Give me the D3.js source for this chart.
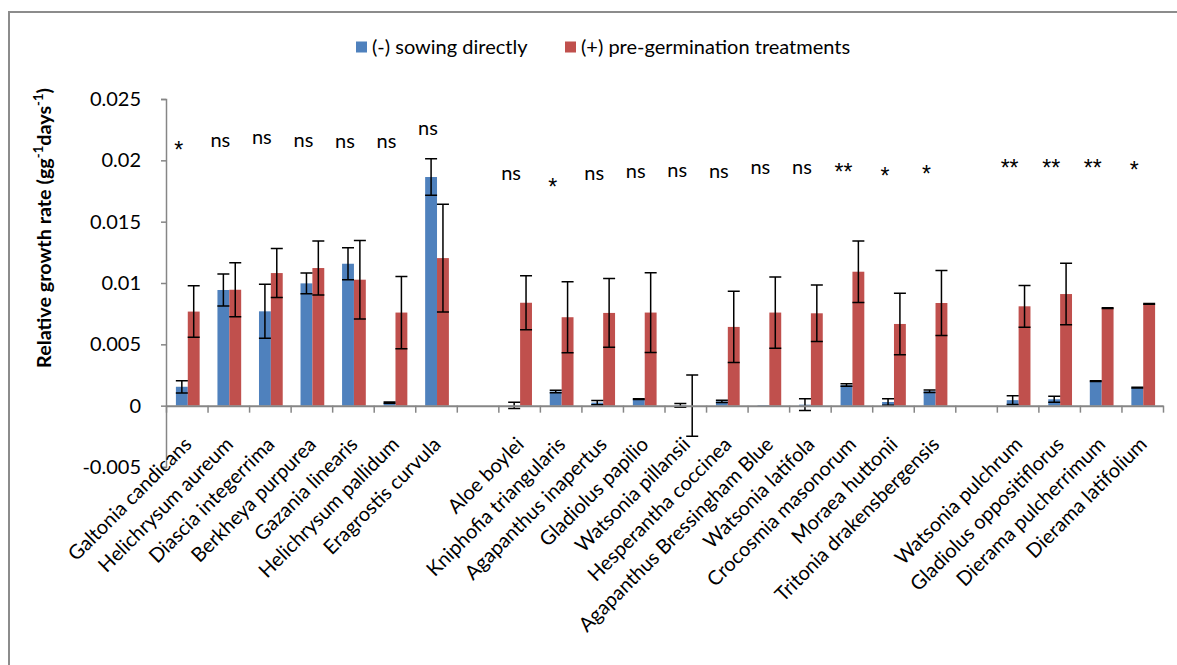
<!DOCTYPE html>
<html>
<head>
<meta charset="utf-8">
<script src="https://cdn.jsdelivr.net/npm/d3@7"></script>
<style>
  html, body { margin: 0; padding: 0; background: #fff; overflow: hidden; }
  svg { display: block; }
  text { font-family: Lato, "Open Sans", "DejaVu Sans", sans-serif; fill: #000; }
</style>
</head>
<body>
<script>
// ---------------- DATA ----------------
const categories = [
  "Galtonia candicans", "Helichrysum aureum", "Diascia integerrima", "Berkheya purpurea",
  "Gazania linearis", "Helichrysum pallidum", "Eragrostis curvula", "",
  "Aloe boylei", "Kniphofia triangularis", "Agapanthus inapertus", "Gladiolus papilio",
  "Watsonia pillansii", "Hesperantha coccinea", "Agapanthus Bressingham Blue", "Watsonia latifola",
  "Crocosmia masonorum", "Moraea huttonii", "Tritonia drakensbergensis", "",
  "Watsonia pulchrum", "Gladiolus oppositiflorus", "Dierama pulcherrimum", "Dierama latifolium"
];
const seriesNames = ["(-) sowing directly", "(+) pre-germination treatments"];
const sowingDirectly = [
  0.00154, 0.00943, 0.00769, 0.00997, 0.01157, 0.00024, 0.01864, null,
  0.00002, 0.00116, 0.00025, 0.00054, 0.00003, 0.00035, 0.00005, 0.00008,
  0.00168, 0.00030, 0.00118, null,
  0.00045, 0.00052, 0.00201, 0.00148
];
const sowingDirectlyErr = [
  0.0005, 0.0013, 0.0022, 0.00084, 0.0013, 0.00005, 0.00148, null,
  0.00025, 0.0001, 0.00018, 0.00003, 0.00015, 0.0001, 0.0, 0.00048,
  0.0001, 0.00027, 0.0001, null,
  0.00035, 0.00025, 0.00003, 0.00003
];
const preGermination = [
  0.00767, 0.00945, 0.01081, 0.01122, 0.01027, 0.00759, 0.01203, null,
  0.00839, 0.00721, 0.00756, 0.00759, 0.0, 0.00642, 0.00759, 0.00753,
  0.01092, 0.00666, 0.00837, null,
  0.00810, 0.00910, 0.00796, 0.00829
];
const preGerminationErr = [
  0.0021, 0.0022, 0.0020, 0.0022, 0.0032, 0.00295, 0.00439, null,
  0.0022, 0.0029, 0.0028, 0.00325, 0.0025, 0.0029, 0.0029, 0.0023,
  0.0025, 0.0025, 0.00265, null,
  0.0017, 0.0025, 0.00003, 0.00003
];
const significance = [
  "*", "ns", "ns", "ns", "ns", "ns", "ns", "",
  "ns", "*", "ns", "ns", "ns", "ns", "ns", "ns",
  "**", "*", "*", "",
  "**", "**", "**", "*"
];
const significanceLevel = [
  0.02122, 0.02147, 0.02171, 0.02147, 0.02138, 0.02138, 0.02244, null,
  0.01878, 0.01821, 0.01878, 0.01894, 0.01902, 0.01894, 0.01927, 0.01927,
  0.01943, 0.01910, 0.01927, null,
  0.01976, 0.01976, 0.01976, 0.01960
];
const yTicks = [-0.005, 0, 0.005, 0.01, 0.015, 0.02, 0.025];
const yTickLabels = ["-0.005", "0", "0.005", "0.01", "0.015", "0.02", "0.025"];

// ---------------- LAYOUT ----------------
const W = 1177, H = 665;
const colors = ["#4F81BD", "#C0504D"];
const axisColor = "#868686";
const fs = 20;

const svg = d3.select("body").append("svg").attr("width", W).attr("height", H);
svg.append("rect").attr("width", W).attr("height", H).attr("fill", "#fff");

// outer chart border (only top and left edges fall inside the picture)
svg.append("line").attr("x1", 8).attr("x2", W).attr("y1", 12).attr("y2", 12)
  .attr("stroke", "#8c8c8c").attr("stroke-width", 2);
svg.append("line").attr("x1", 9).attr("x2", 9).attr("y1", 11).attr("y2", H)
  .attr("stroke", "#8c8c8c").attr("stroke-width", 2);

const n = categories.length;
const x = d3.scaleBand().domain(d3.range(n)).range([166, 1163]).paddingInner(0).paddingOuter(0);
const xEdges = d3.scaleLinear().domain([0, n]).range([166, 1163]);
const y = d3.scaleLinear().domain([-0.005, 0.025]).range([467, 99]);
const bw = x.bandwidth() / 3.5;

// Y axis
const yAxis = svg.append("g").attr("transform", "translate(166,0)")
  .call(d3.axisLeft(y).tickValues(yTicks).tickSize(5).tickPadding(20)
    .tickFormat((d, i) => yTickLabels[i]));
yAxis.select(".domain").attr("stroke", axisColor).attr("stroke-width", 1.5);
yAxis.selectAll(".tick line").attr("stroke", axisColor).attr("stroke-width", 1.5);
yAxis.selectAll(".tick text").style("font-size", fs + "px").attr("fill", "#000");

// Bars
const seriesVals = [sowingDirectly, preGermination];
const seriesErr = [sowingDirectlyErr, preGerminationErr];
const plot = svg.append("g");
seriesVals.forEach((vals, s) => {
  const idx = d3.range(n).filter(i => vals[i] !== null);
  plot.selectAll(null).data(idx).join("rect")
    .attr("x", i => x(i) + x.bandwidth() / 2 - bw + s * bw + 1)
    .attr("width", bw)
    .attr("y", i => Math.min(y(vals[i]), y(0)))
    .attr("height", i => Math.abs(y(vals[i]) - y(0)))
    .attr("fill", colors[s]);
});

// X axis line with ticks between categories
const xAxis = svg.append("g").attr("transform", `translate(0,${y(0)})`)
  .call(d3.axisBottom(xEdges).tickValues(d3.range(0, n + 1)).tickSize(7).tickSizeOuter(0).tickFormat(""));
xAxis.select(".domain").attr("stroke", axisColor).attr("stroke-width", 2);
xAxis.selectAll(".tick line").attr("stroke", axisColor).attr("stroke-width", 1.5);

// Error bars
seriesVals.forEach((vals, s) => {
  const errs = seriesErr[s];
  const idx = d3.range(n).filter(i => vals[i] !== null && errs[i] !== null && errs[i] > 0);
  const g = plot.append("g").attr("stroke", "#000").attr("stroke-width", 1.5).attr("fill", "none");
  idx.forEach(i => {
    const cx = x(i) + x.bandwidth() / 2 - bw / 2 + s * bw + 1;
    const y1 = y(vals[i] + errs[i]), y2 = y(vals[i] - errs[i]);
    const cap = 6;
    g.append("path").attr("d",
      `M${cx},${y1}V${y2}M${cx - cap},${y1}H${cx + cap}M${cx - cap},${y2}H${cx + cap}`);
  });
});

// Category labels
svg.append("g").selectAll("text")
  .data(d3.range(n).filter(i => categories[i] !== ""))
  .join("text")
  .attr("text-anchor", "end")
  .attr("transform", i => `translate(${x(i) + x.bandwidth() / 2 + 6},${y(0) + 40}) rotate(-45)`)
  .style("font-size", fs + "px")
  .text(i => categories[i]);

// Significance annotations
const starFs = 23;
svg.append("g").selectAll("text")
  .data(d3.range(n).filter(i => significance[i] !== ""))
  .join("text")
  .attr("text-anchor", "middle")
  .attr("x", i => x(i) + x.bandwidth() / 2 - 8)
  .attr("y", i => y(significanceLevel[i]) + (significance[i].includes("*") ? 0.56 * starFs : 0.24 * fs))
  .style("font-family", i => significance[i].includes("*") ? "'Liberation Sans', Arial, sans-serif" : null)
  .style("font-size", i => (significance[i].includes("*") ? starFs : fs) + "px")
  .text(i => significance[i]);

// Y axis title
const yt = svg.append("text")
  .attr("transform", "translate(51,228) rotate(-90)")
  .attr("text-anchor", "middle")
  .style("font-size", "19.8px").style("font-weight", "bold");
yt.append("tspan").text("Relative growth rate (gg");
yt.append("tspan").attr("baseline-shift", "super").style("font-size", "13px").text("-1");
yt.append("tspan").text("days");
yt.append("tspan").attr("baseline-shift", "super").style("font-size", "13px").text("-1");
yt.append("tspan").text(")");

// Legend
const legend = svg.append("g");
const legX = [356, 565];
seriesNames.forEach((name, s) => {
  legend.append("rect").attr("x", legX[s]).attr("y", 41.5).attr("width", 11).attr("height", 11).attr("fill", colors[s]);
  legend.append("text").attr("x", legX[s] + 16).attr("y", 54).style("font-size", fs + "px").text(name);
});
</script>
</body>
</html>
